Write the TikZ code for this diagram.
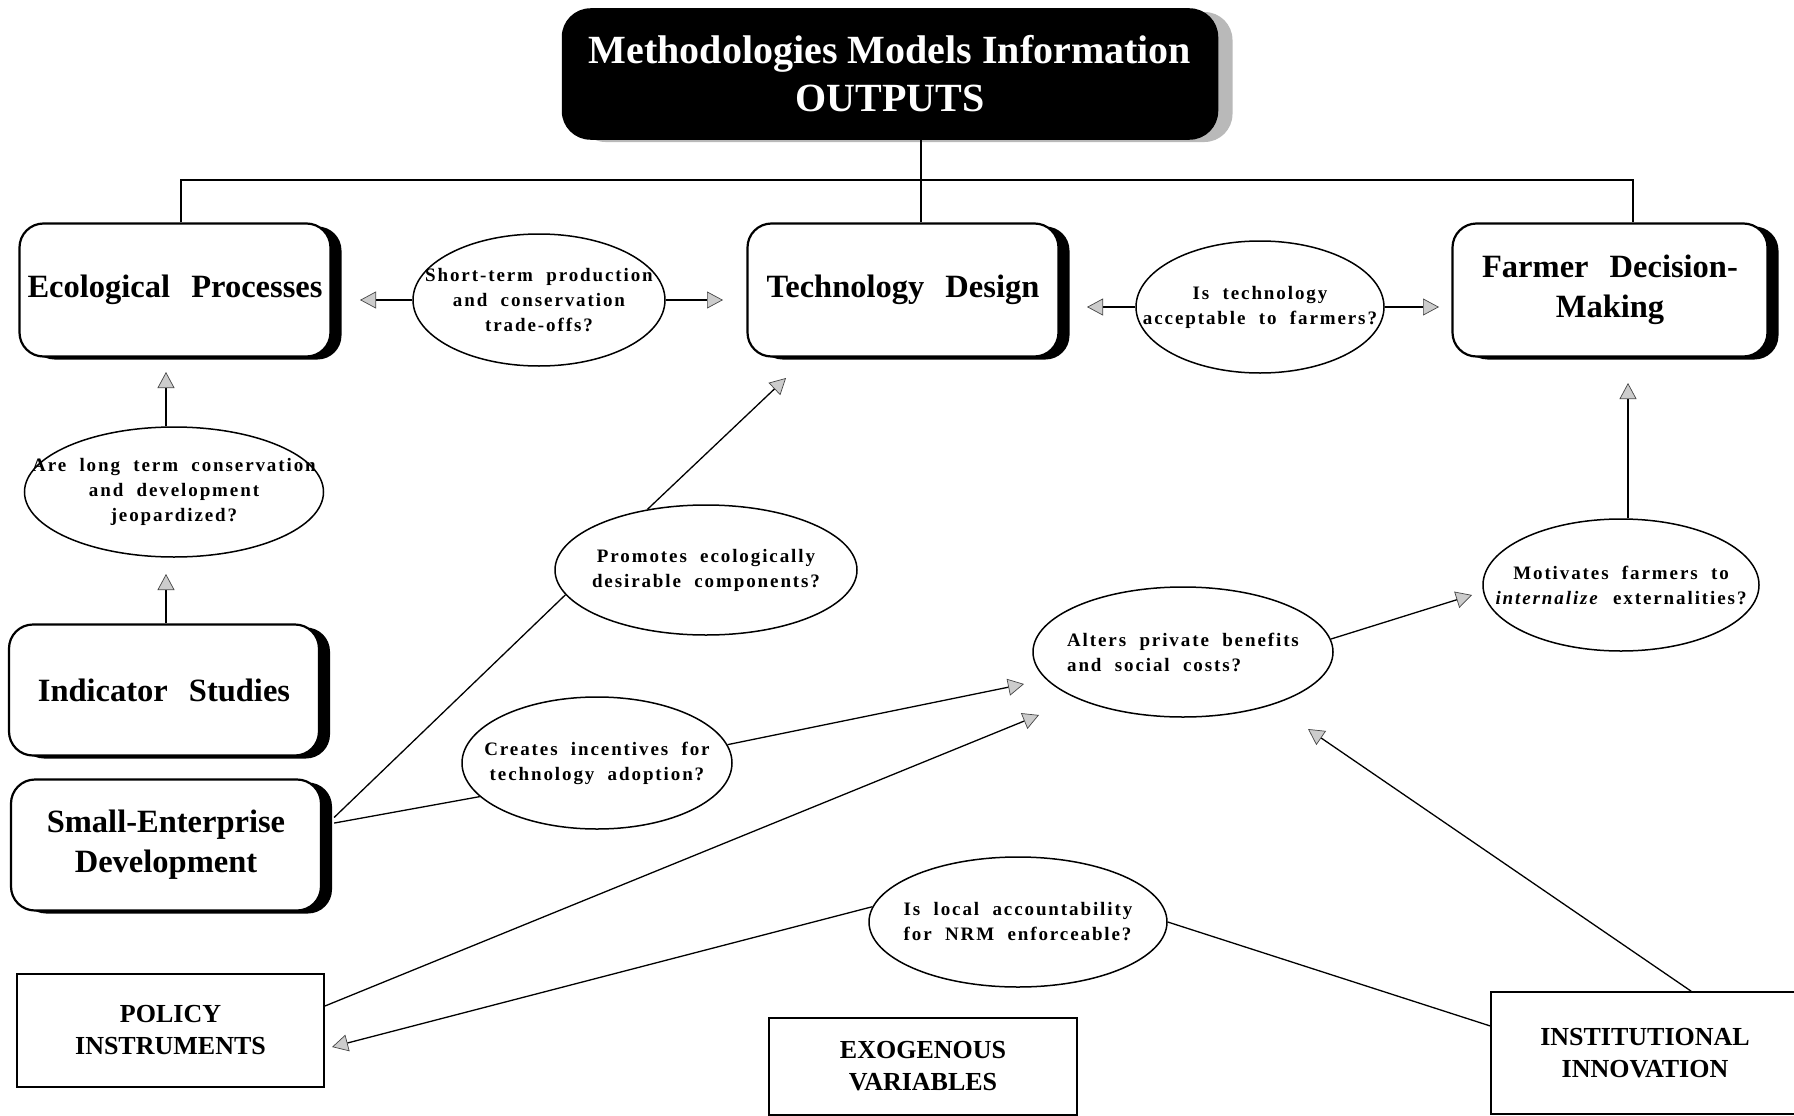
\documentclass[tikz,border=0pt]{standalone}
\usepackage{fontspec}
\setmainfont{Liberation Serif}
\newfontfamily\ellfont[LetterSpace=10,WordSpace=2]{Liberation Serif}
\usetikzlibrary{arrows.meta,shapes.geometric,shadows}
\begin{document}
\begin{tikzpicture}[x=1pt,y=-1pt,
  rbox/.style={draw, line width=2.2pt, rounded corners=24pt, fill=white, align=center,
    font=\fontsize{32.5}{40}\selectfont\bfseries,
    general shadow={fill=black, shadow xshift=11pt, shadow yshift=-3pt}},
  topbox/.style={draw, line width=1.5pt, rounded corners=28pt, fill=black, text=white, align=center,
    font=\fontsize{40}{48}\selectfont\bfseries,
    general shadow={fill=gray!55, shadow xshift=15pt, shadow yshift=-3pt}},
  ell/.style={draw, ellipse, line width=1.5pt, fill=white, inner sep=0pt},
  lt/.style={align=center, inner sep=0pt, font=\ellfont\fontsize{19}{25}\selectfont\bfseries},
  ltl/.style={align=left, inner sep=0pt, font=\ellfont\fontsize{19}{25}\selectfont\bfseries},
  rbx/.style={draw, line width=1.6pt, fill=white, align=center, font=\fontsize{26}{32}\selectfont\bfseries},
  btx/.style={align=center, inner sep=0pt, font=\fontsize{26}{32}\selectfont\bfseries},
  conn/.style={line width=1.3pt},
  arr/.style={line width=1.3pt, -{Triangle[length=16pt,width=17pt,fill=gray!40,color=gray!55!black,line width=0.7pt]}}
]
\useasboundingbox (0,0) rectangle (1794,1116);

% top box
\node[topbox, minimum width=655pt, minimum height=130pt] (top) at (890,74) {Methodologies Models Information\\OUTPUTS};

% rounded boxes
\node[rbox, minimum width=311pt, minimum height=133pt] (eco) at (175,290) {Ecological\hspace{.4em} Processes};
\node[rbox, minimum width=311pt, minimum height=133pt] (tech) at (903,290) {Technology\hspace{.4em} Design};
\node[rbox, minimum width=315pt, minimum height=133pt] (farm) at (1610,290) {Farmer\hspace{.4em} Decision-\\Making};
\node[rbox, minimum width=310pt, minimum height=131pt] (ind) at (164,690) {Indicator\hspace{.4em} Studies};
\node[rbox, minimum width=310pt, minimum height=131pt] (sme) at (166,845) {Small-Enterprise\\Development};

% ellipses
\node[ell, minimum width=252pt, minimum height=132pt, label={[lt]center:{Short-term production\\and conservation\\trade-offs?}}] (e1) at (539,300) {};
\node[ell, minimum width=248pt, minimum height=132pt, label={[lt]center:{Is technology\\acceptable to farmers?}}] (e2) at (1260,307) {};
\node[ell, minimum width=299pt, minimum height=130pt, label={[lt]center:{Are long term conservation\\and development\\jeopardized?}}] (e3) at (174,492) {};
\node[ell, minimum width=302pt, minimum height=130pt, label={[lt]center:{Promotes ecologically\\desirable components?}}] (e4) at (706,570) {};
\node[ell, minimum width=270pt, minimum height=132pt, label={[lt]center:{Creates incentives for\\technology adoption?}}] (e5) at (597,763) {};
\node[ell, minimum width=300pt, minimum height=130pt, label={[ltl]center:{Alters private benefits\\and social costs?}}] (e6) at (1183,652) {};
\node[ell, minimum width=276pt, minimum height=132pt, label={[lt]center:{Motivates farmers to\\\textit{internalize} externalities?}}] (e7) at (1621,585) {};
\node[ell, minimum width=298pt, minimum height=130pt, label={[ltl]center:{Is local accountability\\for NRM enforceable?}}] (e8) at (1018,922) {};

% rectangular boxes
\node[rbx, minimum width=307pt, minimum height=113pt] (pol) at (170.5,1030.5) {POLICY\\INSTRUMENTS};
\node[rbx, minimum width=308pt, minimum height=97pt] (exo) at (923,1066.5) {EXOGENOUS\\VARIABLES};
\node[rbx, minimum width=340pt, minimum height=122pt, label={[btx, xshift=-16pt]center:{INSTITUTIONAL\\INNOVATION}}] (inst) at (1661,1053) {};

% tree connectors from the top box
\coordinate (jl) at (181,180);
\coordinate (jm) at (921,180);
\coordinate (jr) at (1633,180);
\draw[conn] (top.south -| jm) -- (tech.north -| jm);
\draw[conn] (eco.north -| jl) -- (jl) -- (jr) -- (farm.north -| jr);

% arrow tips
\coordinate (t1) at (360,300);
\coordinate (t2) at (723,300);
\coordinate (t3) at (1087,307);
\coordinate (t4) at (1439,307);
\coordinate (t5) at (166,372);
\coordinate (t6) at (166,574);
\coordinate (t7) at (786,378);
\coordinate (t8) at (1024,684);
\coordinate (t9) at (1039,715);
\coordinate (t10) at (332,1047);
\coordinate (t11) at (1308,729);
\coordinate (t12) at (1472,595);
\coordinate (t13) at (1628,383);

\draw[arr] (e1.west) -- (t1);
\draw[arr] (e1.east) -- (t2);
\draw[arr] (e2.west) -- (t3);
\draw[arr] (e2.east) -- (t4);
\draw[arr] (e3.north -| t5) -- (t5);
\draw[arr] (ind.north -| t6) -- (t6);
\draw[conn] ([xshift=12pt]sme.10) -- (e4.190);
\draw[arr] (e4.134) -- (t7);
\draw[conn] ([xshift=12pt]sme.8) -- (e5.196);
\draw[arr] (e5.8) -- (t8);
\draw[arr] (pol.9) -- (t9);
\draw[arr] (e8.174) -- (t10);
\draw[conn] (e8.east) -- (inst.171);
\draw[arr] (inst.64) -- (t11);
\draw[arr] (e6.5) -- (t12);
\draw[arr] (e7.north -| t13) -- (t13);
\end{tikzpicture}
\end{document}
